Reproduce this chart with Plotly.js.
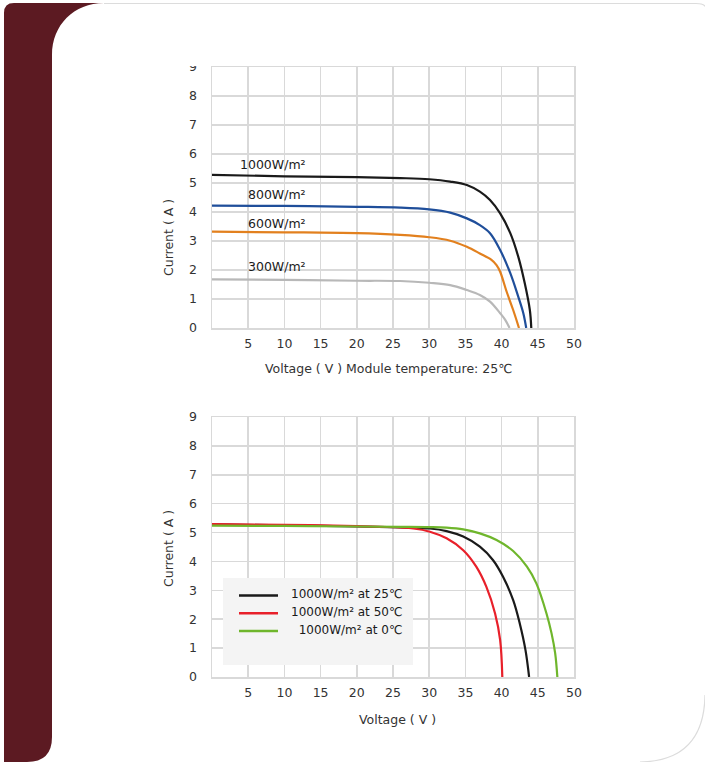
<!DOCTYPE html>
<html>
<head>
<meta charset="utf-8">
<script src="https://cdn.plot.ly/plotly-3.0.1.min.js"></script>
<style>html,body{margin:0;padding:0;background:#fff;}#chart{width:705px;height:762px;}</style>
</head>
<body>
<div id="chart"></div>
<script>
// ---------- data ----------
// Top chart: irradiance curves, module temperature 25°C
var topNames = ["1000W/m\u00b2", "800W/m\u00b2", "600W/m\u00b2", "300W/m\u00b2"];
var v1000 = [0, 10, 20, 26, 30, 32.9, 35.2, 37, 38.4, 39.8, 41.2, 42.3, 43.2, 43.9, 44.1];
var i1000 = [5.28, 5.23, 5.20, 5.17, 5.13, 5.05, 4.93, 4.70, 4.41, 3.95, 3.27, 2.46, 1.54, 0.62, 0];
var v800 = [0, 10, 20, 26, 30, 32.9, 35.2, 37, 38.4, 39.8, 41.2, 42.3, 43.0, 43.4];
var i800 = [4.22, 4.21, 4.18, 4.15, 4.09, 3.98, 3.78, 3.55, 3.27, 2.69, 1.89, 1.08, 0.51, 0];
var v600 = [0, 10, 20, 26, 30, 32.9, 35.2, 37, 38.6, 39.3, 39.8, 40.7, 41.6, 42.4];
var i600 = [3.32, 3.30, 3.27, 3.21, 3.13, 3.01, 2.80, 2.57, 2.35, 2.17, 1.94, 1.25, 0.62, 0];
var v300 = [0, 10, 20, 26, 30, 32.9, 35.2, 37, 38.4, 39.8, 40.5, 41.1];
var i300 = [1.68, 1.66, 1.63, 1.62, 1.56, 1.48, 1.31, 1.14, 0.91, 0.51, 0.28, 0];

// Bottom chart: temperature curves at 1000 W/m2
var botNames = ["1000W/m\u00b2 at 25\u2103", "1000W/m\u00b2 at 50\u2103", "\u00a0\u00a01000W/m\u00b2 at 0\u2103"];
var vT25 = [0, 10, 20, 26, 30.1, 32.4, 34.7, 37, 38.8, 40.2, 41.6, 42.5, 43.3, 43.8];
var iT25 = [5.28, 5.25, 5.21, 5.18, 5.14, 5.05, 4.86, 4.51, 4.05, 3.47, 2.66, 1.86, 0.93, 0];
var vT50 = [0, 10, 20, 23.2, 27.8, 30.1, 32.4, 34.7, 36.5, 37.9, 39.1, 39.8, 40.1];
var iT50 = [5.29, 5.27, 5.22, 5.20, 5.14, 5.03, 4.80, 4.39, 3.82, 3.12, 2.20, 1.28, 0];
var vT0 = [0, 10, 20, 26, 30, 32.4, 34.7, 37, 39.3, 41.6, 43.5, 44.8, 46.2, 46.9, 47.4, 47.7];
var iT0 = [5.24, 5.23, 5.21, 5.20, 5.19, 5.17, 5.11, 4.97, 4.74, 4.36, 3.82, 3.24, 2.20, 1.51, 0.82, 0];

var xTickVals = [5, 10, 15, 20, 25, 30, 35, 40, 45, 50];
var yTickVals = [0, 1, 2, 3, 4, 5, 6, 7, 8, 9];
var topXTitle = "Voltage ( V ) Module temperature: 25\u2103";
var botXTitle = "Voltage ( V )";
var yTitle = "Current ( A )";

// ---------- styles ----------
var W = 705, H = 762;
var topColors = ["#1a1a1a", "#1f4e9a", "#e2801e", "#b8b8b8"];
var botColors = ["#1a1a1a", "#e8202a", "#6fb62c"];
var FONT = "DejaVu Sans, Verdana, sans-serif";
var TXT = "#333333";
var GRID = "#d9d9d9";

function fx(px) { return px / W; }
function fy(py) { return 1 - py / H; }
function pathPx(cmds) {
  return cmds.map(function (c) {
    var s = c[0];
    for (var k = 1; k < c.length; k += 2) {
      s += (k > 1 ? " " : "") + fx(c[k]).toFixed(5) + "," + fy(c[k + 1]).toFixed(5);
    }
    return s;
  }).join(" ");
}

function curve(x, y, color, xa, ya) {
  return {
    x: x, y: y, xaxis: xa, yaxis: ya, type: "scatter", mode: "lines",
    line: { color: color, width: 2.2, shape: "spline", smoothing: 1 },
    hoverinfo: "skip", showlegend: false
  };
}

var data = [
  curve(v1000, i1000, topColors[0], "x", "y"),
  curve(v800, i800, topColors[1], "x", "y"),
  curve(v600, i600, topColors[2], "x", "y"),
  curve(v300, i300, topColors[3], "x", "y"),
  curve(vT25, iT25, botColors[0], "x2", "y2"),
  curve(vT50, iT50, botColors[1], "x2", "y2"),
  curve(vT0, iT0, botColors[2], "x2", "y2")
];

function xAxis(anchor) {
  return {
    domain: [fx(212), fx(574)], anchor: anchor, range: [0, 50],
    tickmode: "array", tickvals: xTickVals, ticks: "", ticklabelstandoff: 3,
    showgrid: true, gridcolor: GRID, gridwidth: 1.5, zeroline: false,
    showline: true, linecolor: GRID, linewidth: 1.5, mirror: true,
    tickfont: { family: FONT, size: 12.5, color: TXT }, fixedrange: true
  };
}
function yAxis(anchor, pyTop, pyBot) {
  return {
    domain: [fy(pyBot), fy(pyTop)], anchor: anchor, range: [0, 9],
    tickmode: "array", tickvals: yTickVals, ticks: "", ticklabelstandoff: 11,
    showgrid: true, gridcolor: GRID, gridwidth: 1.5, zeroline: false,
    showline: true, linecolor: GRID, linewidth: 1.5, mirror: true,
    tickfont: { family: FONT, size: 12.5, color: TXT }, fixedrange: true
  };
}

var shapes = [
  { type: "path", xref: "paper", yref: "paper", layer: "below", line: { width: 0 }, fillcolor: "#5c1a22",
    path: pathPx([["M", 4, 762], ["L", 4, 13], ["Q", 4, 3, 14, 3], ["L", 104, 3], ["C", 74, 3, 52, 25, 52, 55], ["L", 52, 737], ["Q", 52, 762, 27, 762], ["Z"]]) },
  { type: "path", xref: "paper", yref: "paper", layer: "below", line: { width: 1.2, color: "#dcdcdc" },
    path: pathPx([["M", 104, 3.5], ["L", 696, 3.5], ["Q", 705, 3.5, 706, 8]]) },
  { type: "path", xref: "paper", yref: "paper", layer: "below", line: { width: 1.2, color: "#dcdcdc" },
    path: pathPx([["M", 705, 695], ["Q", 704, 761, 640, 762]]) },
  { type: "rect", xref: "paper", yref: "paper", layer: "above", line: { width: 0 }, fillcolor: "#ffffff",
    x0: fx(182), x1: fx(205), y0: fy(66.2), y1: fy(52) },
  { type: "rect", xref: "paper", yref: "paper", layer: "above", line: { width: 0 }, fillcolor: "#f4f4f4",
    x0: fx(223), x1: fx(413), y0: fy(665), y1: fy(578) }
];
var legendY = [595.5, 613.3, 631];
for (var k = 0; k < botColors.length; k++) {
  shapes.push({ type: "line", xref: "paper", yref: "paper", layer: "above",
    x0: fx(239), x1: fx(278), y0: fy(legendY[k]), y1: fy(legendY[k]),
    line: { color: botColors[k], width: 2.6 } });
}

var annotations = [];
var labelPos = [[3.6, 5.64], [4.7, 4.60], [4.7, 3.62], [4.7, 2.12]];
for (var j = 0; j < topNames.length; j++) {
  annotations.push({ xref: "x", yref: "y", x: labelPos[j][0], y: labelPos[j][1], text: topNames[j],
    showarrow: false, xanchor: "left", yanchor: "middle", font: { family: FONT, size: 12.5, color: "#1a1a1a" } });
}
for (var m = 0; m < botNames.length; m++) {
  annotations.push({ xref: "paper", yref: "paper", x: fx(404), y: fy(legendY[m] - 1.5), text: botNames[m],
    showarrow: false, xanchor: "right", yanchor: "middle", font: { family: FONT, size: 12, color: "#1a1a1a" } });
}
annotations.push({ xref: "paper", yref: "paper", x: fx(388), y: fy(368), text: topXTitle, showarrow: false,
  xanchor: "center", yanchor: "middle", font: { family: FONT, size: 12.5, color: TXT } });
annotations.push({ xref: "paper", yref: "paper", x: fx(397), y: fy(719), text: botXTitle, showarrow: false,
  xanchor: "center", yanchor: "middle", font: { family: FONT, size: 12.5, color: TXT } });
annotations.push({ xref: "paper", yref: "paper", x: fx(168), y: fy(238), text: yTitle, showarrow: false, textangle: -90,
  xanchor: "center", yanchor: "middle", font: { family: FONT, size: 12.5, color: TXT } });
annotations.push({ xref: "paper", yref: "paper", x: fx(168), y: fy(549), text: yTitle, showarrow: false, textangle: -90,
  xanchor: "center", yanchor: "middle", font: { family: FONT, size: 12.5, color: TXT } });

var layout = {
  width: W, height: H,
  margin: { l: 0, r: 0, t: 0, b: 0, pad: 0 },
  paper_bgcolor: "#ffffff", plot_bgcolor: "#ffffff",
  showlegend: false,
  xaxis: xAxis("y"),
  yaxis: yAxis("x", 67, 328),
  xaxis2: xAxis("y2"),
  yaxis2: yAxis("x2", 417, 677),
  shapes: shapes,
  annotations: annotations,
  font: { family: FONT, color: TXT }
};

Plotly.newPlot("chart", data, layout, { staticPlot: true, displayModeBar: false });
</script>
</body>
</html>
